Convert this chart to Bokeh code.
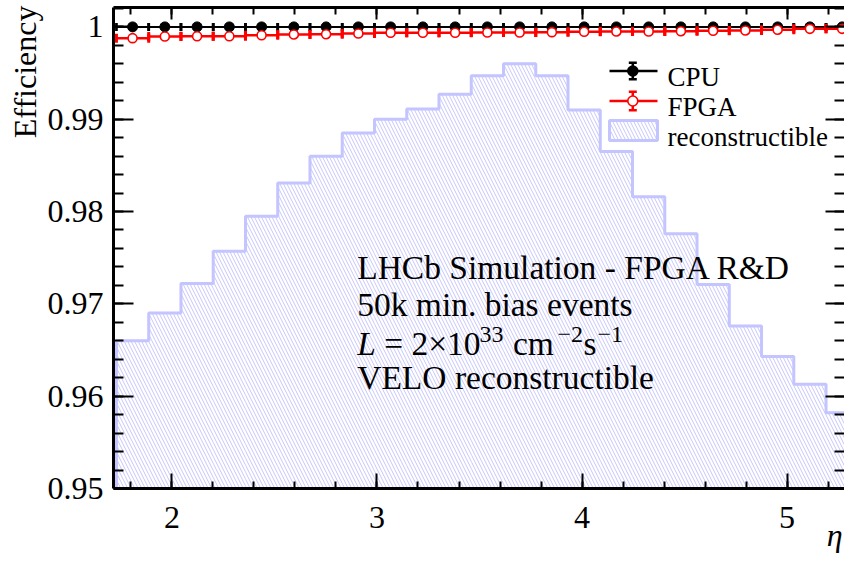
import numpy as np
from bokeh.plotting import figure
from bokeh.models import Label, LinearAxis, FixedTicker, Title
from bokeh.embed import file_html
from bokeh.resources import INLINE

# ---- data -------------------------------------------------------------
# pseudorapidity bin edges
eta_edges = [1.7294, 1.8867, 2.0440, 2.2013, 2.3586, 2.5159, 2.6732, 2.8305,
             2.9878, 3.1451, 3.3024, 3.4597, 3.6170, 3.7743, 3.9316, 4.0889,
             4.2462, 4.4035, 4.5608, 4.7181, 4.8754, 5.0327, 5.1900, 5.3473]

# tracking efficiency per eta bin
cpu_eff = [1.0, 1.0, 1.0, 1.0, 1.0, 1.0, 1.0, 1.0, 1.0, 1.0, 1.0, 1.0,
           1.0, 1.0, 1.0, 1.0, 1.0, 1.0, 1.0, 1.0, 1.0, 1.0, 1.0]
fpga_eff = [0.99878, 0.99896, 0.99899, 0.99899, 0.99910, 0.99918, 0.99921,
            0.99929, 0.99936, 0.99936, 0.99936, 0.99939, 0.99939, 0.99943,
            0.99947, 0.99950, 0.99950, 0.99953, 0.99958, 0.99961, 0.99969,
            0.99979, 0.99979]

# reconstructible-track distribution, scaled onto the efficiency axis
reco_shape = [0.9660, 0.9690, 0.9722, 0.9757, 0.9795, 0.9831, 0.9860,
              0.9885, 0.9900, 0.9911, 0.9927, 0.9947, 0.9960, 0.9947,
              0.9910, 0.9865, 0.9816, 0.9776, 0.9721, 0.9676, 0.9643,
              0.9613, 0.9582]

x_major = [2, 3, 4, 5]
x_tick_labels = ["2", "3", "4", "5"]
y_major = [0.95, 0.96, 0.97, 0.98, 0.99, 1.0]
y_tick_labels = ["0.95", "0.96", "0.97", "0.98", "0.99", "1"]

# ---- layout -----------------------------------------------------------
W, H = 844, 561
FR_L, FR_R, FR_T, FR_B = 113, 844, 7, 488
X0, X1 = 1.715, 5.28
Y0, Y1 = 0.95, 1.0021

FONT = "Liberation Serif"
HIST = "#c4c4ff"
HATCH = "#c6c6fc"
RED = "#ff0000"


def sx(px):
    return X0 + (px - FR_L) / (FR_R - FR_L) * (X1 - X0)


def sy(py):
    return Y0 + (FR_B - py) / (FR_B - FR_T) * (Y1 - Y0)


p = figure(width=W, height=H, x_range=(X0, X1), y_range=(Y0, Y1),
           x_axis_type=None, y_axis_type=None,
           min_border_left=FR_L, min_border_right=W - FR_R,
           min_border_top=FR_T, min_border_bottom=H - FR_B,
           output_backend="svg", toolbar_location=None)
p.outline_line_color = None
p.background_fill_color = "white"
p.border_fill_color = "white"

x_minor = [round(1.8 + 0.2 * i, 1) for i in range(18)]
y_minor = [round(0.95 + 0.002 * i, 3) for i in range(27)]


def axis(major, minor, overrides, tick_in, minor_in, show_labels, line=True):
    ax = LinearAxis(ticker=FixedTicker(ticks=major, minor_ticks=minor),
                    major_tick_in=tick_in, major_tick_out=0,
                    minor_tick_in=minor_in, minor_tick_out=0,
                    major_tick_line_width=2, minor_tick_line_width=2,
                    axis_line_width=3,
                    axis_line_color="black" if line else None,
                    major_label_text_font=FONT)
    if show_labels:
        ax.major_label_overrides = overrides
        ax.major_label_text_font_size = "32px"
        ax.major_label_text_color = "black"
    else:
        ax.major_label_text_font_size = "0px"
        ax.major_label_standoff = 0
    return ax


xb = axis(x_major, x_minor, dict(zip(x_major, x_tick_labels)), 15, 7, True)
xb.major_label_standoff = 18
p.add_layout(xb, "below")
xt = axis(x_major, x_minor, {}, 12, 7, False)
p.add_layout(xt, "above")
yl = axis(y_major, y_minor, dict(zip(y_major, y_tick_labels)), 20, 10, True)
yl.major_label_standoff = 10
p.add_layout(yl, "left")
yr = axis(y_major, y_minor, {}, 19, 10, False, line=False)
p.add_layout(yr, "right")

# axis titles, flush with the far end of each axis
p.add_layout(Title(text="\u03b7", align="right", vertical_align="top",
                   offset=2, standoff=-28, text_font=FONT,
                   text_font_size="32px", text_font_style="italic",
                   text_color="black"), "below")
p.add_layout(Title(text="Efficiency", align="right", vertical_align="bottom",
                   offset=-2, standoff=4, text_font=FONT,
                   text_font_size="32px", text_font_style="normal",
                   text_color="black"), "left")

# ---- reconstructible histogram ----------------------------------------
edges = np.array(eta_edges)
lo, hi = edges[:-1], edges[1:]
ctr = 0.5 * (lo + hi)
reco = np.array(reco_shape)

p.quad(left=lo, right=hi, bottom=Y0, top=reco, fill_color=None,
       line_color=None, hatch_pattern="\\", hatch_color=HATCH,
       hatch_weight=1, hatch_scale=7)
ox, oy = [edges[0]], [Y0]
for a, b, h in zip(lo, hi, reco):
    ox += [a, b]
    oy += [h, h]
ox.append(edges[-1])
oy.append(Y0)
p.line(ox, oy, line_color=HIST, line_width=3)

# ---- efficiency points -------------------------------------------------
cpu = np.array(cpu_eff)
fpga = np.array(fpga_eff)

p.segment(x0=lo, y0=cpu, x1=hi, y1=cpu, line_color="black", line_width=2)
p.scatter(np.concatenate([lo, hi]), np.concatenate([cpu, cpu]),
          marker="dash", angle=np.pi / 2, size=8, line_color="black",
          line_width=2.7)
p.scatter(ctr, cpu, marker="circle", size=10, fill_color="black",
          line_color="black")

p.segment(x0=lo, y0=fpga, x1=hi, y1=fpga, line_color=RED, line_width=2.5)
p.scatter(np.concatenate([lo, hi]), np.concatenate([fpga, fpga]),
          marker="dash", angle=np.pi / 2, size=9, line_color=RED,
          line_width=3)
p.scatter(ctr, fpga, marker="circle", size=9, fill_color="white",
          line_color=RED, line_width=1.6)

# ---- legend ------------------------------------------------------------
for yc, col, fill, half in [(70.5, "black", "black", 8.3),
                            (100.5, RED, "white", 9.2)]:
    p.segment(x0=[sx(609)], y0=[sy(yc)], x1=[sx(657)], y1=[sy(yc)],
              line_color=col, line_width=2.5)
    p.segment(x0=[sx(632.3)], y0=[sy(yc - half)], x1=[sx(632.3)],
              y1=[sy(yc + half)], line_color=col, line_width=2.5)
    p.scatter([sx(632.3), sx(632.3)], [sy(yc - half), sy(yc + half)],
              marker="dash", size=8, line_color=col, line_width=2.5)
    p.scatter([sx(632.3)], [sy(yc)], marker="circle", size=10,
              fill_color=fill, line_color=col, line_width=1.6)

p.quad(left=[sx(609)], right=[sx(657)], bottom=[sy(140)], top=[sy(120)],
       fill_color=None, line_color=HIST, line_width=3,
       hatch_pattern="\\", hatch_color=HATCH, hatch_weight=1, hatch_scale=7)

for txt, base in [("CPU", 76.7), ("FPGA", 106.7), ("reconstructible", 136.0)]:
    p.add_layout(Label(x=sx(667), y=sy(base), text=txt, text_font=FONT,
                       text_font_size="27px", text_baseline="alphabetic",
                       text_align="left", text_color="black"))

# ---- annotation block --------------------------------------------------
def put(txt, px, py, size="33.5px", style="normal"):
    p.add_layout(Label(x=sx(px), y=sy(py), text=txt, text_font=FONT,
                       text_font_size=size, text_font_style=style,
                       text_baseline="alphabetic", text_align="left",
                       text_color="black"))


put("LHCb Simulation - FPGA R&D", 356.7, 267.3)
put("50k min. bias events", 356.7, 304.0)
put("L", 356.7, 343.3, style="italic")
put("= 2\u00d710", 383.7, 343.3)
put("33", 479.0, 334.0, size="24px")
put("cm", 512.4, 343.3)
put("\u22122", 557.0, 334.0, size="24px")
put("s", 583.0, 343.3)
put("\u22121", 597.0, 334.0, size="24px")
put("VELO reconstructible", 356.7, 376.7)

open("out.html", "w").write(file_html(p, INLINE))
